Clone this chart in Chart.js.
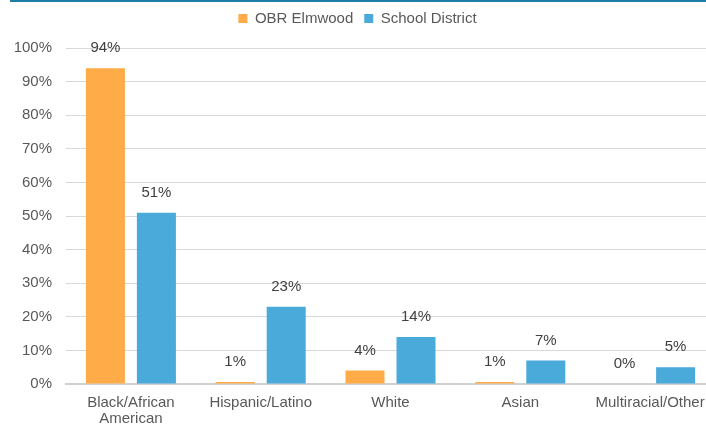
<!DOCTYPE html>
<html>
<head>
<meta charset="utf-8">
<script src="https://cdn.jsdelivr.net/npm/chart.js@4.4.0/dist/chart.umd.min.js"></script>
<style>
  html, body { margin: 0; padding: 0; background: #fff; }
  #wrap { position: relative; width: 706px; height: 429px; overflow: hidden; }
  #topline { position: absolute; left: 10px; top: 0; width: 696px; height: 2px; background: #1f7ea6; z-index: 2; }
</style>
</head>
<body>
<div id="wrap">
  <div id="topline"></div>
  <canvas id="raceChart" width="717" height="429"></canvas>
</div>
<script>
var categories = [["Black/African", "American"], "Hispanic/Latino", "White", "Asian", "Multiracial/Other"]
var obrElmwood = [94, 0.6, 4, 0.6, 0]
var schoolDistrict = [51, 23, 14, 7, 5]
var yTicks = [0, 10, 20, 30, 40, 50, 60, 70, 80, 90, 100]

Chart.defaults.font.family = "'Liberation Sans', Arial, sans-serif"
Chart.defaults.font.size = 15
Chart.defaults.color = "#595959"

// value labels above each bar
var barLabels = {
   id: "barLabels",
   afterDatasetsDraw: function (chart) {
      var ctx = chart.ctx
      ctx.save()
      ctx.font = "15px 'Liberation Sans', Arial, sans-serif"
      ctx.fillStyle = "#404040"
      ctx.textAlign = "center"
      ctx.textBaseline = "middle"
      chart.data.datasets.forEach(function (ds, i) {
         chart.getDatasetMeta(i).data.forEach(function (bar, j) {
            ctx.fillText(Math.round(ds.data[j]) + "%", bar.x, bar.y - 20)
         })
      })
      ctx.restore()
   },
}

// extra space under the legend
var legendMargin = {
   id: "legendMargin",
   beforeInit: function (chart) {
      var fit = chart.legend.fit
      chart.legend.fit = function () {
         fit.bind(chart.legend)()
         this.height += 12
      }
   },
}

var ctx = document.getElementById("raceChart").getContext("2d")
var chart = new Chart(ctx, {
   type: "bar",
   data: {
      labels: categories,
      datasets: [
         {
            label: "OBR Elmwood",
            backgroundColor: "#ffab47",
            data: obrElmwood,
         },
         {
            label: "School District",
            backgroundColor: "#4aaad9",
            data: schoolDistrict,
         },
      ],
   },
   options: {
      responsive: false,
      animation: false,
      categoryPercentage: 0.786,
      barPercentage: 0.765,
      layout: { padding: { left: 0, right: 2, top: 0, bottom: 0 } },
      plugins: {
         tooltip: { enabled: false },
         legend: {
            position: "top",
            labels: {
               boxWidth: 9,
               boxHeight: 9,
               padding: 11,
               color: "#595959",
            },
         },
      },
      scales: {
         x: {
            grid: { display: false, drawTicks: false },
            border: { color: "#d0d0d0", width: 2 },
            ticks: {
               padding: 11,
               maxRotation: 0,
               autoSkip: false,
               font: { lineHeight: 1.07 },
            },
            afterFit: function (scale) { scale.height = 45 },
         },
         y: {
            min: 0,
            max: 100,
            afterBuildTicks: function (axis) {
               axis.ticks = yTicks.map(function (v) { return { value: v } })
            },
            grid: { color: "#d9d9d9", lineWidth: 1, drawTicks: false },
            border: { display: false },
            ticks: {
               padding: 14,
               callback: function (v) { return v + "%" },
            },
            afterFit: function (scale) { scale.width = 66 },
         },
      },
   },
   plugins: [barLabels, legendMargin],
})
</script>
</body>
</html>
